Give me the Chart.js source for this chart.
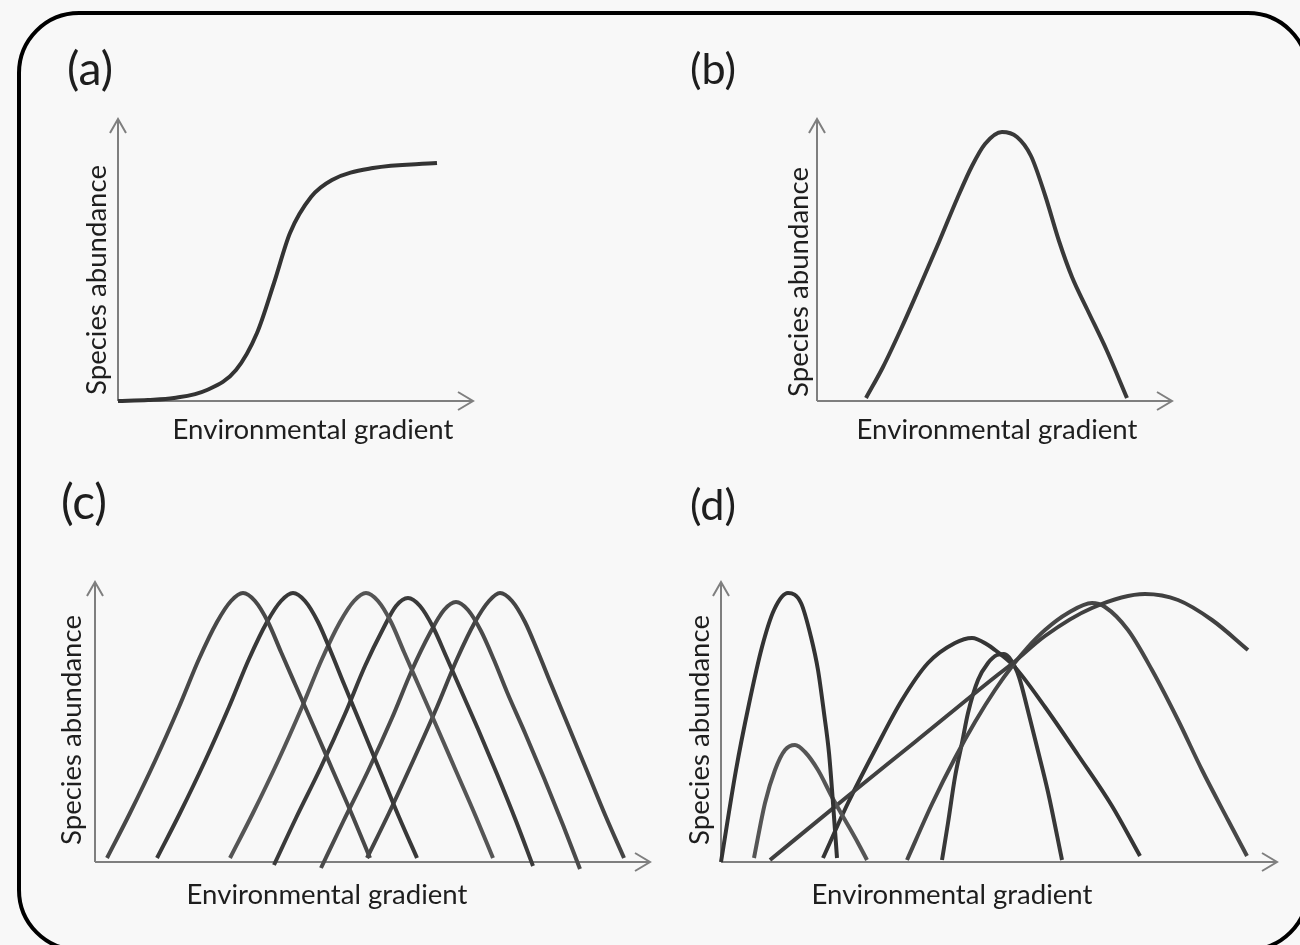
<!DOCTYPE html>
<html>
<head>
  <meta charset="utf-8">
  <title>Species abundance along environmental gradients</title>
  <script src="https://cdn.jsdelivr.net/npm/chart.js"></script>
  <style>
    html, body { margin: 0; padding: 0; background: #f8f8f8; overflow: hidden; }
    #frame {
      position: absolute; left: 17px; top: 11px; width: 1293px; height: 941px;
      box-sizing: border-box; border: 4px solid #000; border-radius: 62px;
    }
    canvas { position: absolute; left: 0; top: 0; }
  </style>
</head>
<body>
  <div id="frame"></div>
  <canvas id="panelA" width="1300" height="945"></canvas>
  <canvas id="panelB" width="1300" height="945"></canvas>
  <canvas id="panelC" width="1300" height="945"></canvas>
  <canvas id="panelD" width="1300" height="945"></canvas>

  <script>
    // texts
    var xTitle = 'Environmental gradient';
    var yTitle = 'Species abundance';
    var panelLetters = ['(a)', '(b)', '(c)', '(d)'];

    // (a) sigmoid response
    var aX = [0, 30, 56, 89, 118, 139, 156, 172, 193, 214, 255, 319];
    var aY = [0, 1, 3, 11, 31, 68, 118, 168, 204, 221, 233, 238];

    // (b) single unimodal response
    var bX = [49, 66, 84, 103, 122, 140, 155, 168, 185, 200, 214, 228, 242, 255, 270, 290, 310];
    var bY = [3, 34, 72, 115, 159, 202, 235, 257, 269, 264, 245, 206, 160, 124, 92, 50, 3];

    // (c) six evenly spaced species
    var c1X = [12, 35, 60, 84, 104, 122, 136, 148, 160, 173, 186, 200, 218, 238, 258, 275];
    var c1Y = [4, 49, 101, 155, 203, 240, 261, 269, 261, 240, 210, 178, 137, 91, 45, 4];
    var c2X = [62, 85, 110, 134, 154, 172, 186, 198, 210, 223, 236, 249, 266, 285, 304, 322];
    var c2Y = [4, 49, 101, 155, 203, 240, 261, 269, 261, 240, 210, 178, 137, 91, 45, 4];
    var c3X = [135, 158, 183, 207, 227, 245, 259, 271, 283, 296, 309, 323, 341, 361, 381, 398];
    var c3Y = [4, 49, 101, 155, 203, 240, 261, 269, 261, 240, 210, 178, 137, 91, 45, 4];
    var c4X = [179, 201, 226, 250, 270, 288, 301, 313, 325, 338, 351, 365, 383, 402, 421, 438];
    var c4Y = [-3, 44, 95, 148, 196, 233, 256, 264, 256, 235, 206, 174, 133, 88, 41, -4];
    var c5X = [226, 248, 273, 297, 317, 335, 349, 361, 373, 386, 399, 412, 430, 449, 468, 485];
    var c5Y = [-6, 40, 91, 144, 192, 229, 252, 260, 252, 231, 202, 170, 129, 84, 37, -7];
    var c6X = [272, 294, 318, 342, 362, 380, 394, 405, 417, 430, 443, 456, 473, 492, 511, 529];
    var c6Y = [4, 49, 101, 155, 203, 240, 261, 269, 261, 240, 210, 178, 137, 91, 45, 4];

    // (d) irregular species responses
    var d1X = [0, 15, 28, 41, 53, 67, 80, 90, 97, 103, 108, 112, 116];
    var d1Y = [0, 92, 158, 215, 252, 269, 259, 225, 192, 149, 109, 59, 4];
    var d2X = [33, 44, 54, 64, 74, 84, 97, 111, 124, 137, 146];
    var d2Y = [4, 59, 92, 112, 117, 110, 92, 65, 42, 19, 2];
    var d3X = [49, 127, 194, 274, 292, 324, 371, 424, 457, 491, 527];
    var d3Y = [2, 66, 120, 185, 199, 226, 254, 268, 262, 242, 212];
    var d4X = [186, 211, 234, 254, 274, 292, 307, 324, 347, 371, 384, 407, 431, 457, 481, 507, 526];
    var d4Y = [2, 58, 104, 140, 172, 197, 215, 232, 249, 259, 255, 232, 192, 142, 92, 42, 6];
    var d5X = [102, 127, 154, 181, 207, 234, 251, 267, 274, 292, 324, 357, 391, 419];
    var d5Y = [4, 59, 112, 162, 199, 219, 224, 217, 212, 197, 155, 107, 56, 6];
    var d6X = [221, 227, 234, 241, 247, 257, 267, 276, 283, 290, 298, 306, 316, 327, 341];
    var d6Y = [2, 39, 85, 119, 149, 182, 199, 207, 208, 202, 185, 155, 115, 70, 2];

    // arrow tips of the axes
    var axisMaxX = [355, 355, 555, 556];
    var axisMaxY = [282, 282, 280, 280];

    // text sized to a given width, centred on its box
    function drawLabel(ctx, text, cx, cy, width, angle) {
      ctx.save();
      ctx.font = '100px Lato';
      var size = 100 * width / ctx.measureText(text).width;
      ctx.font = size + 'px Lato';
      var m = ctx.measureText(text);
      ctx.translate(cx, cy);
      ctx.rotate(angle);
      ctx.fillStyle = '#1e1e1e';
      ctx.textAlign = 'center';
      ctx.textBaseline = 'alphabetic';
      ctx.fillText(text, 0, (m.actualBoundingBoxAscent - m.actualBoundingBoxDescent) / 2);
      ctx.restore();
    }

    var sketchAxes = {
      id: 'sketchAxes',
      beforeDatasetsDraw: function(chart) {
        var ctx = chart.ctx, area = chart.chartArea;
        var x0 = chart.scales.x.getPixelForValue(0);
        var y0 = chart.scales.y.getPixelForValue(0);
        ctx.save();
        ctx.strokeStyle = '#7f7f7f';
        ctx.lineWidth = 2;
        ctx.beginPath();
        ctx.moveTo(x0, y0);
        ctx.lineTo(area.right, y0);
        ctx.moveTo(area.right - 15, y0 - 9);
        ctx.lineTo(area.right, y0);
        ctx.lineTo(area.right - 15, y0 + 9);
        ctx.moveTo(x0, y0);
        ctx.lineTo(x0, area.top);
        ctx.moveTo(x0 - 8, area.top + 14);
        ctx.lineTo(x0, area.top);
        ctx.lineTo(x0 + 8, area.top + 14);
        ctx.stroke();
        ctx.restore();
      },
      afterDraw: function(chart, args, opts) {
        var ctx = chart.ctx;
        drawLabel(ctx, opts.letter, opts.letterPos[0], opts.letterPos[1], 46, 0);
        drawLabel(ctx, xTitle, opts.xLabelPos[0], opts.xLabelPos[1], 281, 0);
        drawLabel(ctx, yTitle, opts.yLabelPos[0], opts.yLabelPos[1], 230, -Math.PI / 2);
      }
    };

    function series(xs, ys, color) {
      return {
        data: xs.map(function(v, i) { return { x: v, y: ys[i] }; }),
        borderColor: color,
        borderWidth: 4,
        borderCapStyle: 'butt',
        borderJoinStyle: 'round',
        pointRadius: 0,
        cubicInterpolationMode: 'monotone',
        fill: false,
        clip: false
      };
    }

    function makePanel(id, i, datasets, padding, labels) {
      labels.letter = panelLetters[i];
      return new Chart(document.getElementById(id), {
        type: 'line',
        data: { datasets: datasets },
        options: {
          responsive: false,
          animation: false,
          events: [],
          devicePixelRatio: 1,
          layout: { padding: padding },
          plugins: {
            legend: { display: false },
            tooltip: { enabled: false },
            sketchAxes: labels
          },
          scales: {
            x: { type: 'linear', min: 0, max: axisMaxX[i], display: false },
            y: { type: 'linear', min: -10, max: axisMaxY[i], display: false }
          }
        },
        plugins: [sketchAxes]
      });
    }

    makePanel('panelA', 0, [series(aX, aY, '#333333')],
      { left: 118, top: 119, right: 827, bottom: 534 },
      { letterPos: [90, 70], xLabelPos: [313, 431], yLabelPos: [98, 280] });

    makePanel('panelB', 1, [series(bX, bY, '#393939')],
      { left: 817, top: 119, right: 128, bottom: 534 },
      { letterPos: [713, 70], xLabelPos: [997, 431], yLabelPos: [800, 282] });

    makePanel('panelC', 2, [
        series(c1X, c1Y, '#484848'),
        series(c2X, c2Y, '#383838'),
        series(c3X, c3Y, '#555555'),
        series(c4X, c4Y, '#3a3a3a'),
        series(c5X, c5Y, '#4a4a4a'),
        series(c6X, c6Y, '#444444')
      ],
      { left: 95, top: 582, right: 650, bottom: 73 },
      { letterPos: [84, 504], xLabelPos: [327, 896], yLabelPos: [73, 730] });

    makePanel('panelD', 3, [
        series(d1X, d1Y, '#333333'),
        series(d2X, d2Y, '#555555'),
        series(d3X, d3Y, '#404040'),
        series(d4X, d4Y, '#474747'),
        series(d5X, d5Y, '#353535'),
        series(d6X, d6Y, '#383838')
      ],
      { left: 721, top: 582, right: 23, bottom: 73 },
      { letterPos: [713, 506], xLabelPos: [952, 896], yLabelPos: [701, 730] });
  </script>
</body>
</html>
